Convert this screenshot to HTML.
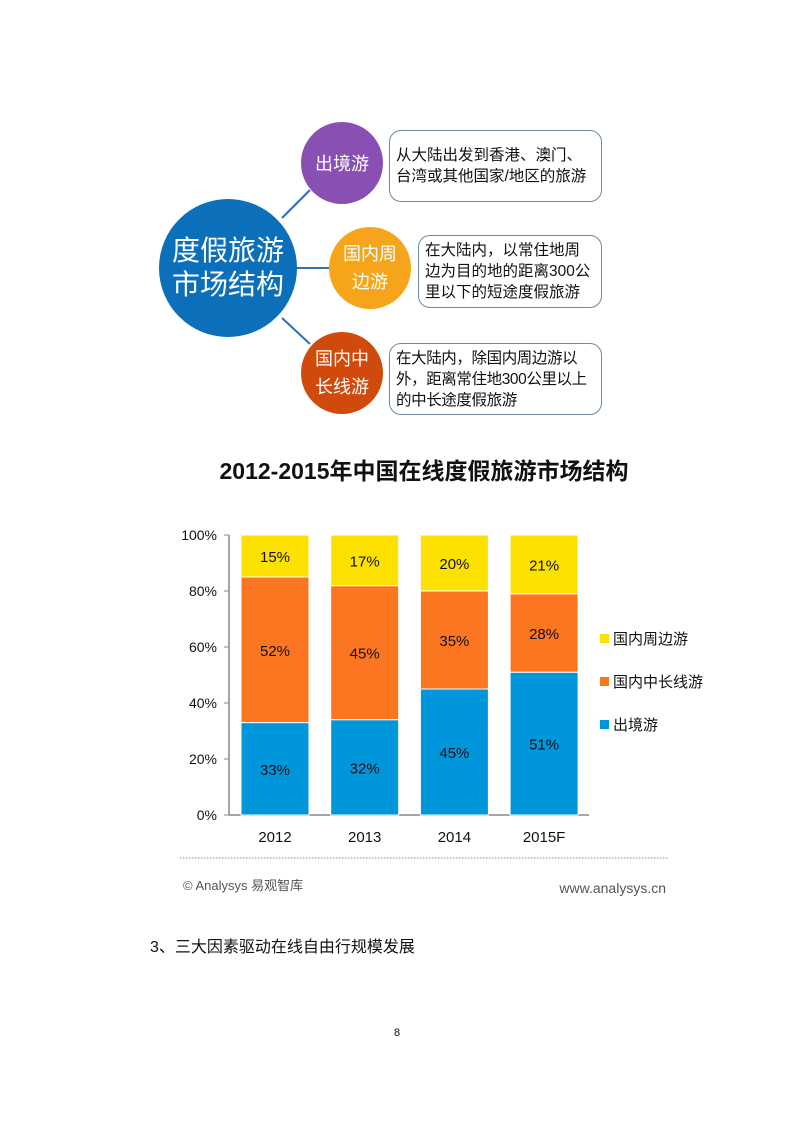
<!DOCTYPE html>
<html><head><meta charset="utf-8"><style>
body{margin:0;background:#fff;}
#page{position:relative;width:794px;height:1123px;overflow:hidden;font-family:"Liberation Sans","Noto Sans CJK SC",sans-serif;}
.abs{position:absolute;}
.circ{position:absolute;border-radius:50%;color:#fff;display:flex;align-items:center;justify-content:center;text-align:center;}
.box{position:absolute;border:1.5px solid #6a8aa0;border-radius:12px;background:#fff;font-size:15.5px;line-height:21px;color:#111;padding:0 0 0 6px;box-sizing:border-box;display:flex;align-items:center;white-space:nowrap;}
</style></head><body>
<div id="page">
<svg class="abs" style="left:0;top:0" width="794" height="430">
<line x1="282" y1="218" x2="310" y2="190" stroke="#2f6fb3" stroke-width="2"/>
<line x1="296" y1="268" x2="330" y2="268" stroke="#2f6fb3" stroke-width="2"/>
<line x1="282" y1="318" x2="310" y2="344" stroke="#2f6fb3" stroke-width="2"/>
</svg>
<div class="circ" style="left:159px;top:199px;width:138px;height:138px;background:#0b6fba;font-size:28px;line-height:34px">度假旅游<br>市场结构</div>
<div class="circ" style="left:301px;top:122px;width:82px;height:82px;background:#8a4fb2;font-size:18px">出境游</div>
<div class="circ" style="left:329px;top:227px;width:82px;height:82px;background:#f6a51a;font-size:18px;line-height:28px">国内周<br>边游</div>
<div class="circ" style="left:301px;top:332px;width:82px;height:82px;background:#cf4a0b;font-size:18px;line-height:28px">国内中<br>长线游</div>
<div class="box" style="left:389px;top:130px;width:213px;height:72px">从大陆出发到香港、澳门、<br>台湾或其他国家/地区的旅游</div>
<div class="box" style="left:418px;top:235px;width:184px;height:73px">在大陆内，以常住地周<br>边为目的地的距离300公<br>里以下的短途度假旅游</div>
<div class="box" style="left:389px;top:343px;width:213px;height:72px;letter-spacing:-0.4px">在大陆内，除国内周边游以<br>外，距离常住地300公里以上<br>的中长途度假旅游</div>

<div class="abs" style="left:0;width:848px;top:452px;text-align:center;font-size:23px;font-weight:bold;color:#111">2012-2015年中国在线度假旅游市场结构</div>

<svg id="chart" class="abs" style="left:0;top:500px" width="794" height="420"></svg>

<div class="abs" style="left:150px;top:933px;font-size:16px;color:#111">3、三大因素驱动在线自由行规模发展</div>
<div class="abs" style="left:394px;top:1027px;font-size:11px;color:#111">8</div>
</div>
<script>
const categories=["2012","2013","2014","2015F"];
const outbound=[33,32,45,51];
const domesticLong=[52,45,35,28];
const domesticShort=[15,17,20,21];
const yTicks=[0,20,40,60,80,100];
const seriesNames=["出境游","国内中长线游","国内周边游"];
const colors=["#0096dc","#fc7621","#fde100"];
const NS="http://www.w3.org/2000/svg";
const svg=document.getElementById('chart');
const OY=500, y0=815-OY, y1=535-OY, axX=229, x0=241, step=89.7, bw=68;
const ys=v=>y0-(y0-y1)*v/100;
function mk(t,a,txt){const e=document.createElementNS(NS,t);for(const k in a)e.setAttribute(k,a[k]);if(txt!=null)e.textContent=txt;svg.appendChild(e);return e;}
yTicks.forEach(t=>{
 let l=mk('line',{x1:axX-5,x2:axX,y1:ys(t),y2:ys(t),stroke:'#888'});
 
 
 let tx=mk('text',{x:axX-12,y:ys(t)+5,'text-anchor':'end','font-size':14,fill:'#111','font-family':'Liberation Sans, sans-serif'},t+'%');
 
 
});
let ya=mk('line',{x1:axX,x2:axX,y1:y1,y2:y0,stroke:'#888','stroke-width':1.5});


let xa=mk('line',{x1:axX,x2:589,y1:y0,y2:y0,stroke:'#888','stroke-width':1.5});


const series=[outbound,domesticLong,domesticShort];
categories.forEach((c,i)=>{
 const tot=outbound[i]+domesticLong[i]+domesticShort[i];
 let acc=0;const x=x0+step*i;
 series.forEach((s,k)=>{
  const v=s[i]/tot*100;
  const top=ys(acc+v),bot=ys(acc);
  let r=mk('rect',{x:x,y:top,width:bw,height:bot-top,fill:colors[k],stroke:'#fff','stroke-width':1});
  
  
  let t=mk('text',{x:x+bw/2,y:(top+bot)/2+6,'text-anchor':'middle','font-size':15,fill:'#111','font-family':'Liberation Sans, sans-serif'},s[i]+'%');
  
  
  acc+=v;
 });
 let xl=mk('text',{x:x+bw/2,y:y0+27,'text-anchor':'middle','font-size':15,fill:'#111','font-family':'Liberation Sans, sans-serif'},c);
 
 
});
[2,1,0].forEach((k,j)=>{
 const y=639-OY+43*j;
 let r=mk('rect',{x:600,y:y-5,width:9,height:9,fill:colors[k]});
 
 
 let t=mk('text',{x:613,y:y+5,'font-size':15,fill:'#111','font-family':'Liberation Sans, Noto Sans CJK SC, sans-serif'},seriesNames[k]);
 
 
});
let dl=mk('line',{x1:180,x2:668,y1:358,y2:358,stroke:'#888','stroke-dasharray':'1.5,1.5'});


let s1=mk('text',{x:183,y:390,'font-size':13,fill:'#555','font-family':'Liberation Sans, Noto Sans CJK SC, sans-serif'},'© Analysys 易观智库');


let s2=mk('text',{x:666,y:393,'text-anchor':'end','font-size':14,fill:'#555','font-family':'Liberation Sans, sans-serif'},'www.analysys.cn');


</script>
</body></html>
